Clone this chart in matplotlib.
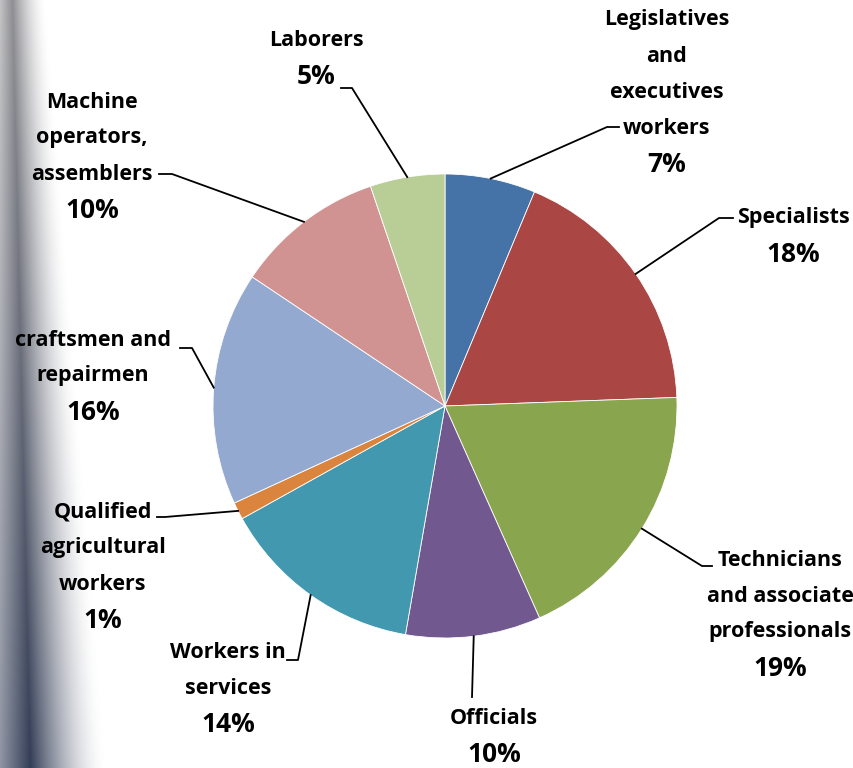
import matplotlib
matplotlib.use("Agg")
import matplotlib.pyplot as plt
import numpy as np

plt.rcParams['font.family'] = ['Open Sans', 'DejaVu Sans']

# data (share of each slice, clockwise from 12 o'clock)
categories = ["Legislatives\nand\nexecutives\nworkers", "Specialists",
              "Technicians\nand associate\nprofessionals", "Officials",
              "Workers in\nservices", "Qualified\nagricultural\nworkers",
              "craftsmen and\nrepairmen", "Machine\noperators,\nassemblers", "Laborers"]
shares = [6.3, 18.1, 18.9, 9.4, 14.2, 1.2, 16.25, 10.4, 5.2]
pct_labels = ["7%", "18%", "19%", "10%", "14%", "1%", "16%", "10%", "5%"]
colors = ['#4572A7', '#AA4643', '#89A54E', '#71588F', '#4198AF',
          '#DB843D', '#93A9CF', '#D19392', '#B9CD96']

W, H = 854, 768
CX, CY, R = 445, 406, 232

# label layout in pixels: text centre x, first line y, elbow, line end
label_x = [667, 793, 780, 494, 228, 103, 93, 92, 316]
label_y0 = [20, 218, 560, 718, 652, 512, 340, 102, 40]
elbows = [(607, 127), (719, 218), (702, 566), (472, 697), (298, 660),
          (165, 517), (192, 348), (172, 174), (352, 88)]
ends = [(619, 127), (733, 218), (712, 566), (472, 697), (287, 660),
        (157, 517), (180, 348), (159, 174), (341, 88)]


def px(x, y):
    return (x - CX) / R, (CY - y) / R


fig = plt.figure(figsize=(W / 100, H / 100), dpi=100)

# grey/blue shading strip at the left edge (slide background)
bg = fig.add_axes([0, 0, 1, 1], zorder=0)
bg.set_xlim(0, W)
bg.set_ylim(H, 0)
bg.axis('off')
sw = 130
xs = np.arange(sw)[None, :]
ys = np.arange(H)[:, None] / H
edge = 45 + 60 * ys
core = 12 + 18 * ys
d = np.where(xs < core, 0.55 + 0.45 * xs / core,
             np.clip(1 - (xs - core) / (edge - core), 0, 1) ** 1.6)
d = d * (0.75 + 0.25 * ys)
dark = np.stack([0.42 - 0.22 * ys, 0.42 - 0.18 * ys, 0.44 - 0.10 * ys], axis=-1)
img = 1 - d[..., None] * (1 - dark)
bg.imshow(img, extent=(0, sw, H, 0), aspect='auto', interpolation='bilinear')

ax = fig.add_axes([0, 0, 1, 1], zorder=1)
ax.patch.set_alpha(0)
wedges, _ = ax.pie(shares, colors=colors, startangle=90, counterclock=False,
                   radius=1, wedgeprops=dict(linewidth=0.6, edgecolor='white'))
x0, y1 = px(0, 0)
x1, y0 = px(W, H)
ax.set_xlim(x0, x1)
ax.set_ylim(y0, y1)
ax.set_aspect('auto')
ax.axis('off')

step = 36
for i, w in enumerate(wedges):
    mid = np.deg2rad((w.theta1 + w.theta2) / 2)
    sx, sy = np.cos(mid), np.sin(mid)
    ex, ey = px(*elbows[i])
    fx, fy = px(*ends[i])
    ax.plot([sx, ex, fx], [sy, ey, fy], color='black', lw=1.3, zorder=3)
    lines = categories[i].split("\n")
    for j, line in enumerate(lines):
        tx, ty = px(label_x[i], label_y0[i] + j * step)
        ax.text(tx, ty, line, ha='center', va='center', fontsize=15.5,
                fontweight='bold', color='black')
    tx, ty = px(label_x[i], label_y0[i] + len(lines) * step + 1)
    ax.text(tx, ty, pct_labels[i], ha='center', va='center', fontsize=19,
            fontweight='bold', color='black')

fig.savefig("out.png", dpi=100)
